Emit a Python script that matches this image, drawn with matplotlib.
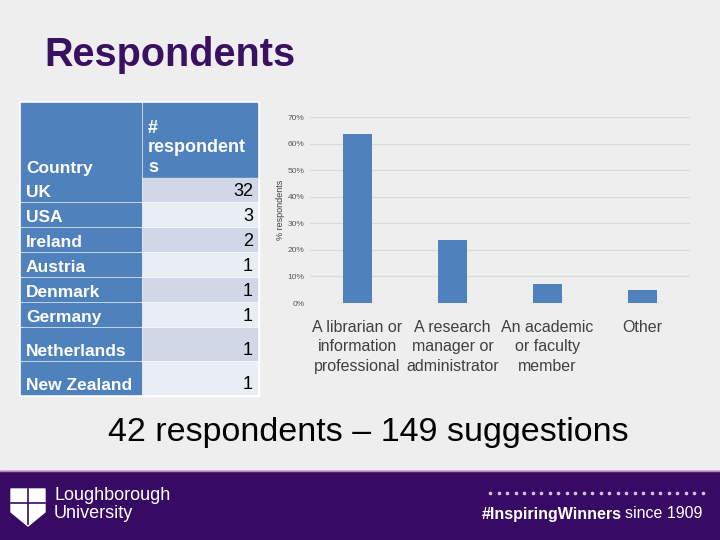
import matplotlib.pyplot as plt
from matplotlib.patches import Rectangle, Polygon

plt.rcParams['font.family'] = ['Liberation Sans', 'DejaVu Sans']

# data
categories = ['A librarian or\ninformation\nprofessional', 'A research\nmanager or\nadministrator',
              'An academic\nor faculty\nmember', 'Other']
pct = [63.6, 23.8, 7.0, 5.0]
yticks = [0, 10, 20, 30, 40, 50, 60, 70]
countries = ['UK', 'USA', 'Ireland', 'Austria', 'Denmark', 'Germany', 'Netherlands', 'New Zealand']
counts = [32, 3, 2, 1, 1, 1, 1, 1]

W, H = 720, 540
fig = plt.figure(figsize=(7.2, 5.4), dpi=100)
fig.patch.set_facecolor('#eeeeee')

bg = fig.add_axes([0, 0, 1, 1])
bg.set_xlim(0, W)
bg.set_ylim(H, 0)
bg.axis('off')

# title
bg.text(44, 55, 'Respondents', fontsize=28.5, fontweight='bold', color='#3a1060',
        va='center', ha='left')

# table
blue = '#4f81bd'
bg.add_patch(Rectangle((19, 101), 240, 295, color='white'))
bg.add_patch(Rectangle((21, 103), 120, 74, color=blue))
bg.add_patch(Rectangle((143, 103), 114, 74, color=blue))
bg.text(26, 176, 'Country', color='white', fontsize=12.5, fontweight='bold', va='bottom')
bg.text(148, 176, '#\nrespondent\ns', color='white', fontsize=13, fontweight='bold',
        va='bottom', linespacing=1.2)
row_tops = [178, 203, 228, 253, 278, 303, 328, 362]
row_bots = [201, 226, 251, 276, 301, 326, 360, 394]
for i, (c, n) in enumerate(zip(countries, counts)):
    t, b = row_tops[i], row_bots[i]
    bg.add_patch(Rectangle((21, t), 120, b - t, color=blue))
    bg.add_patch(Rectangle((143, t), 114, b - t, color='#d0d8e8' if i % 2 == 0 else '#e9edf4'))
    bg.text(26, b - 1, c, color='white', fontsize=12.5, fontweight='bold', va='bottom')
    bg.text(253, b - 1, str(n), color='black', fontsize=13, va='bottom', ha='right')

# bottom caption
bg.text(368, 432, '42 respondents \u2013 149 suggestions', fontsize=24.5, color='black',
        ha='center', va='center')

# footer
bg.add_patch(Rectangle((0, 471), W, 69, color='#370a63'))
bg.plot([0, W], [471, 471], color='#c77bbf', lw=1)
bg.add_patch(Polygon([(11, 489), (45, 489), (45, 512), (28, 526), (11, 512)],
                     closed=True, color='white'))
bg.plot([28, 28], [489, 524], color='#370a63', lw=1.2)
bg.plot([11, 45], [503, 503], color='#370a63', lw=1.2)
bg.text(54, 496, 'Loughborough', color='white', fontsize=13, va='center')
bg.text(54, 514, 'University', color='white', fontsize=13, va='center')
bg.plot([490 + 8.5 * k for k in range(26)], [493] * 26, 'o', color='#cfc4dc', ms=1.6)
bg.text(622, 514, '#InspiringWinners', color='white', fontsize=11.5, fontweight='bold',
        ha='right', va='center')
bg.text(625, 514, 'since 1909', color='white', fontsize=11.5, ha='left', va='center')

# bar chart
ax = fig.add_axes([310 / W, 1 - 303 / H, 380 / W, 186 / H])
ax.set_facecolor('#eeeeee')
x = range(len(categories))
ax.bar(x, pct, width=0.3, color='#4f81bd', zorder=3)
ax.set_xlim(-0.5, 3.5)
ax.set_ylim(0, 70)
ax.set_yticks(yticks)
ax.set_yticklabels([f'{v}%' for v in yticks], fontsize=6, color='#595959')
ax.set_xticks(list(x))
ax.set_xticklabels(categories, fontsize=11.5, color='#404040', linespacing=1.4)
ax.tick_params(length=0, pad=12)
ax.tick_params(axis='y', pad=4)
ax.grid(axis='y', color='#d9d9d9', lw=0.8, zorder=0)
for s in ax.spines.values():
    s.set_visible(False)
ax.set_ylabel('% respondents', fontsize=6.5, color='#404040', labelpad=2)

fig.savefig('out.png', dpi=100, facecolor=fig.get_facecolor())
